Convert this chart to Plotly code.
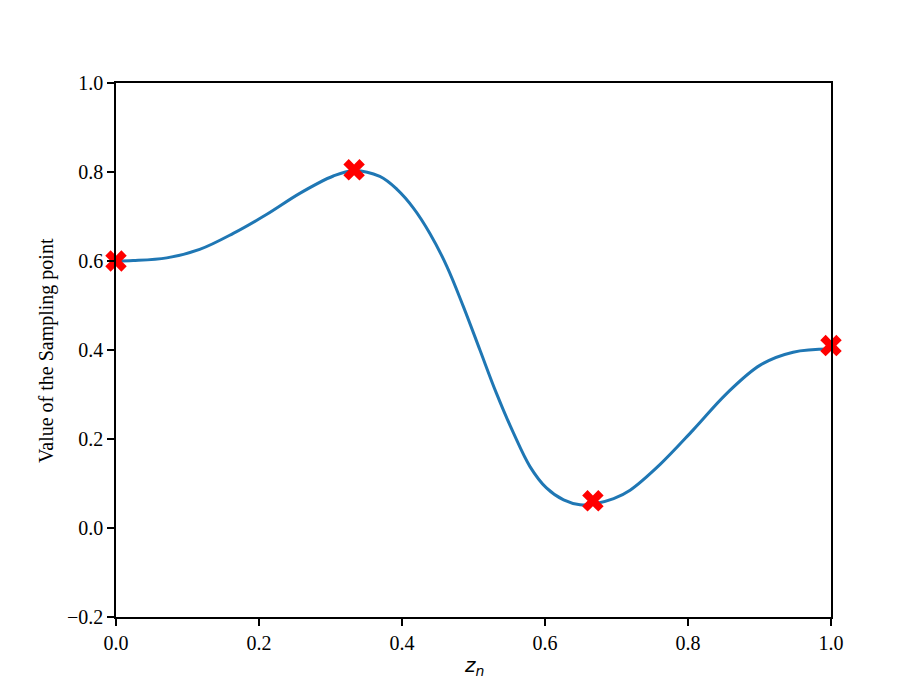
import plotly.graph_objects as go

# Sampling points (red X markers)
sample_x = [0.0, 0.333, 0.667, 1.0]
sample_y = [0.600, 0.805, 0.061, 0.410]

# Curve values
curve_x = [0.0, 0.024, 0.071, 0.117, 0.164, 0.211, 0.257, 0.304, 0.332, 0.369,
           0.393, 0.416, 0.439, 0.463, 0.486, 0.509, 0.532, 0.556, 0.579, 0.602,
           0.626, 0.649, 0.668, 0.696, 0.719, 0.761, 0.807, 0.854, 0.901, 0.947, 1.0]
curve_y = [0.600, 0.601, 0.607, 0.626, 0.662, 0.705, 0.752, 0.791, 0.803, 0.790,
           0.761, 0.719, 0.662, 0.587, 0.497, 0.400, 0.303, 0.213, 0.138, 0.090,
           0.063, 0.052, 0.054, 0.066, 0.085, 0.143, 0.220, 0.302, 0.366, 0.395, 0.402]

x_ticks = [0.0, 0.2, 0.4, 0.6, 0.8, 1.0]
y_ticks = [-0.2, 0.0, 0.2, 0.4, 0.6, 0.8, 1.0]

fig = go.Figure()
fig.add_trace(go.Scatter(x=curve_x, y=curve_y, mode="lines",
                         line=dict(color="#1f77b4", width=3, shape="spline", smoothing=1.0),
                         showlegend=False, hoverinfo="skip"))
fig.add_trace(go.Scatter(x=sample_x, y=sample_y, mode="markers",
                         marker=dict(symbol="x", size=19, color="red", line=dict(width=0)),
                         cliponaxis=False, showlegend=False))

tickfont = dict(family="Liberation Serif, Times New Roman, serif", size=20, color="black")
fig.update_xaxes(range=[0, 1.0], tickvals=x_ticks, ticktext=[f"{v:.1f}" for v in x_ticks],
                 showgrid=False, zeroline=False, showline=True, linecolor="black", linewidth=1.6,
                 mirror=True, ticks="outside", ticklen=7, tickwidth=1.6, tickcolor="black",
                 tickfont=tickfont)
fig.update_yaxes(range=[-0.2, 1.0], tickvals=y_ticks,
                 ticktext=[f"{v:.1f}".replace("-", "\u2212") for v in y_ticks],
                 showgrid=False, zeroline=False, showline=True, linecolor="black", linewidth=1.6,
                 mirror=True, ticks="outside", ticklen=7, tickwidth=1.6, tickcolor="black",
                 tickfont=tickfont)

fig.add_annotation(text="Value of the Sampling point", xref="paper", yref="paper",
                   x=-0.098, y=0.5, xanchor="center", yanchor="middle", textangle=-90,
                   showarrow=False,
                   font=dict(family="Liberation Serif, Times New Roman, serif", size=20, color="black"))
fig.add_annotation(text="<i>z</i><sub><i>n</i></sub>", xref="paper", yref="paper",
                   x=0.5, y=-0.063, xanchor="center", yanchor="top",
                   showarrow=False,
                   font=dict(family="DejaVu Sans, sans-serif", size=20, color="black"))

# page body has an 8px default margin, so shift the plot area up/left by 8px
fig.update_layout(width=922, height=692, margin=dict(l=108, r=99, t=75, b=83),
                  plot_bgcolor="white", paper_bgcolor="white")

fig.write_html("out.html")
